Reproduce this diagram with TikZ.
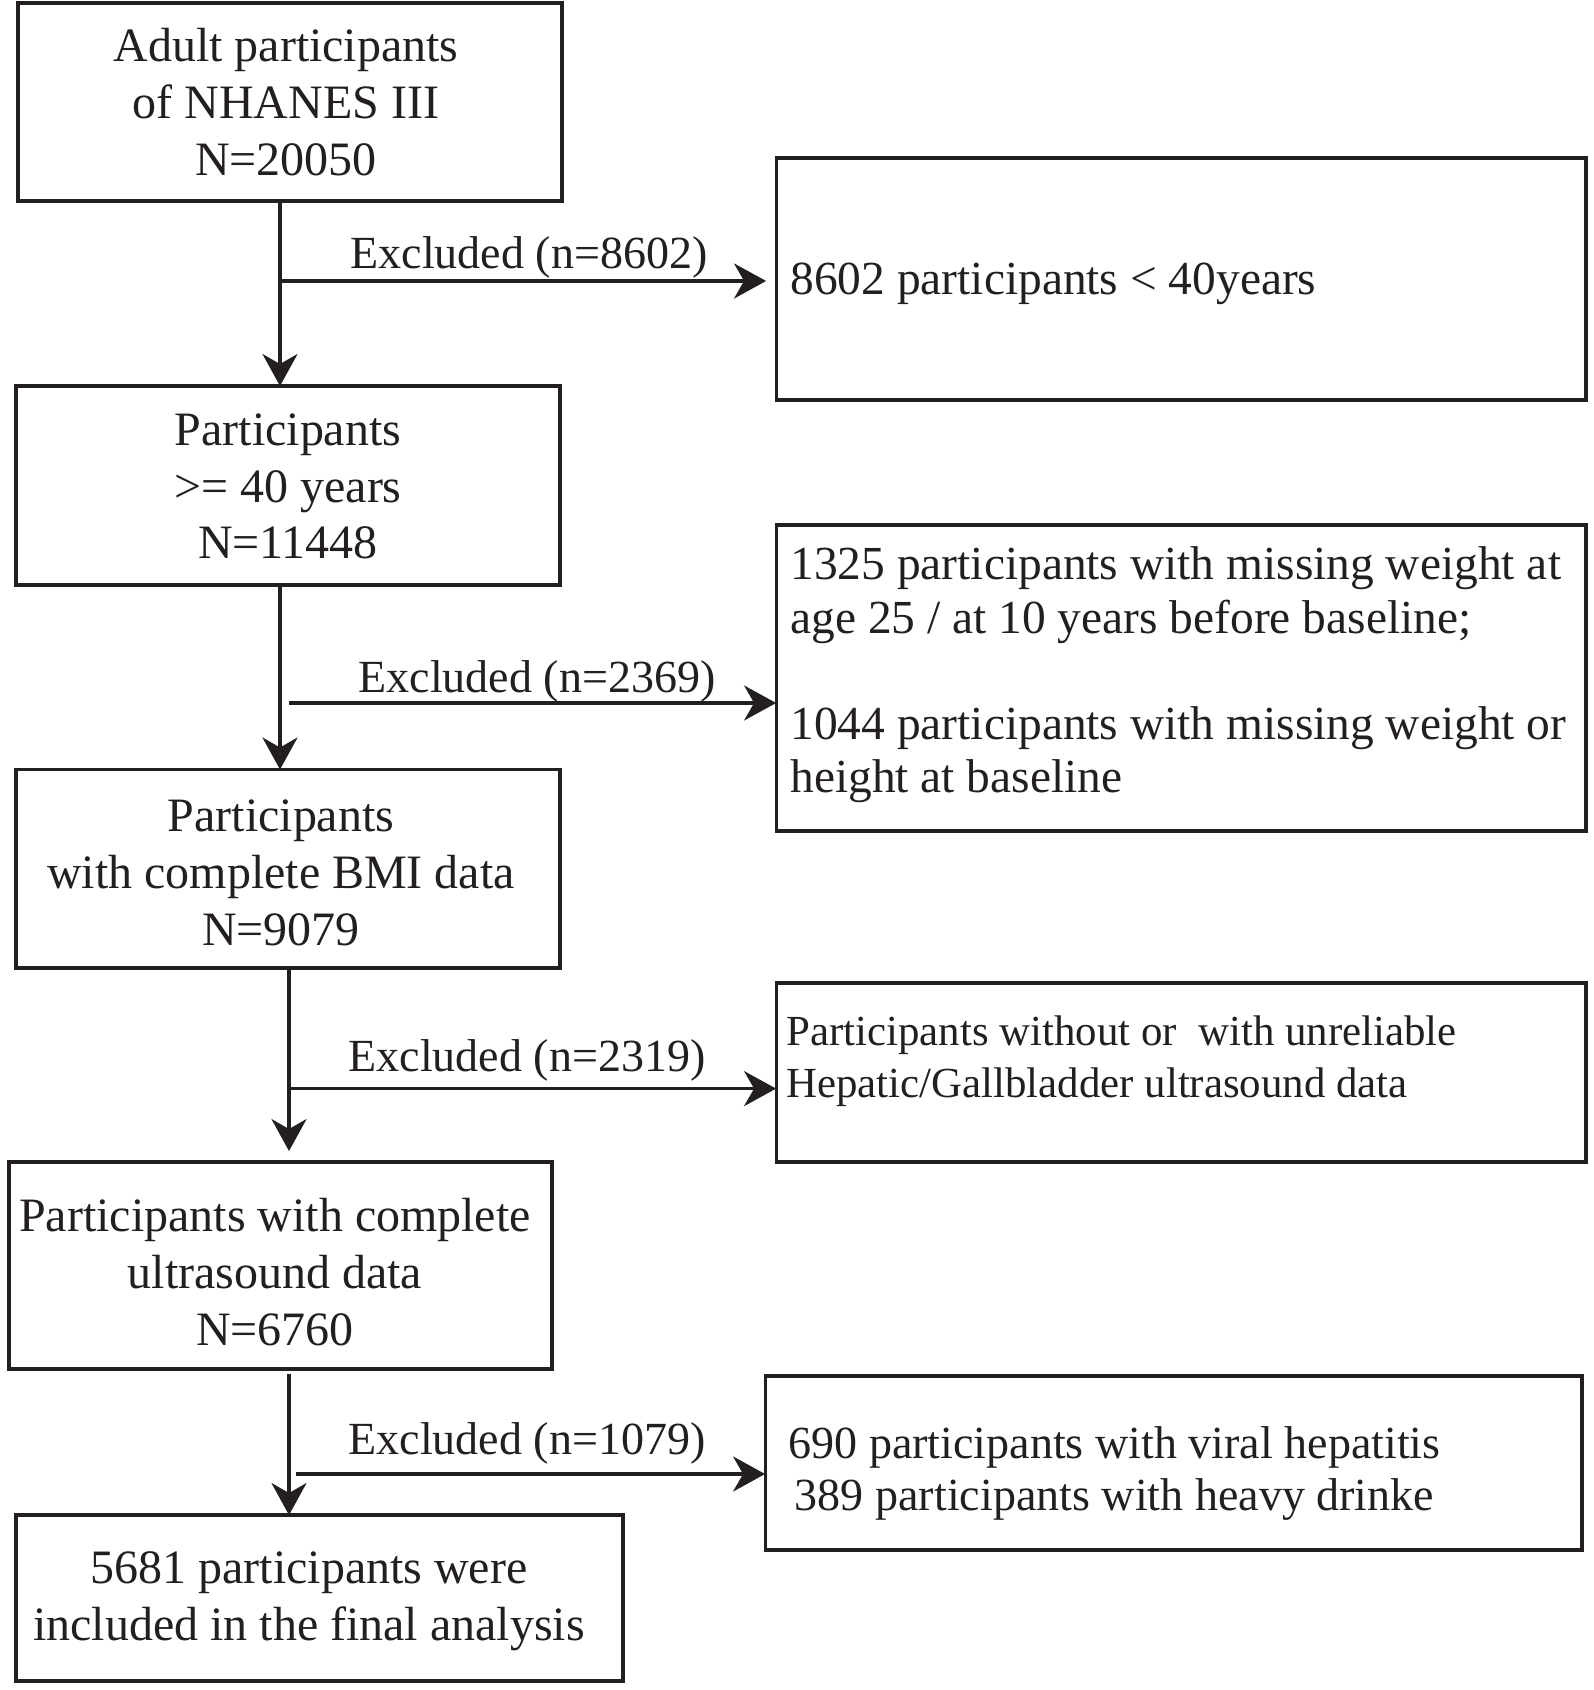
\documentclass[tikz,border=0pt]{standalone}
\usepackage{fontspec}
\setmainfont{Liberation Serif}
\usetikzlibrary{arrows.meta}
\definecolor{ink}{RGB}{35,31,32}
\begin{document}
\begin{tikzpicture}[x=0.02cm,y=-0.02cm,
  box/.style={draw=ink,line width=1.8pt,inner sep=0pt,outer sep=0pt},
  maintxt/.style={inner sep=0pt,text=ink,align=center,font=\fontsize{27.3pt}{32.3pt}\selectfont},
  sidetxt/.style={inner sep=0pt,text=ink,align=left,anchor=west,font=\fontsize{27pt}{30.3pt}\selectfont},
  lbl/.style={inner sep=0pt,text=ink,font=\fontsize{26.2pt}{30pt}\selectfont},
  arr/.style={draw=ink,line width=1.9pt,-{Stealth[length=0.64cm,width=0.7cm,inset=0.2cm]}}
]
\useasboundingbox (0,0) rectangle (1593,1690);

% left boxes
\node[box,minimum width=10.88cm,minimum height=3.96cm] (b1) at (290,102) {};
\node[box,minimum width=10.88cm,minimum height=3.98cm] (b2) at (288,485.5) {};
\node[box,minimum width=10.88cm,minimum height=3.97cm] (b3) at (288,868.75) {};
\node[box,minimum width=10.86cm,minimum height=4.14cm] (b4) at (280.5,1265.5) {};
\node[box,minimum width=12.14cm,minimum height=3.32cm] (b5) at (319.5,1598) {};

% right boxes
\node[box,minimum width=16.2cm,minimum height=4.84cm] (r1) at (1181,279) {};
\node[box,minimum width=16.2cm,minimum height=6.12cm] (r2) at (1181,678) {};
\node[box,minimum width=16.2cm,minimum height=3.58cm] (r3) at (1181,1072.5) {};
\node[box,minimum width=16.34cm,minimum height=3.48cm] (r4) at (1173.5,1463) {};

% left texts
\node[maintxt] (t1) at (286,102) {Adult participants\\of NHANES III\\N=20050};
\node[maintxt] (t2) at (288,486.5) {Participants\\>= 40 years\\N=11448};
\node[maintxt] (t3) at (281,873) {Participants\\with complete BMI data\\N=9079};
\node[maintxt] (t4) at (275,1272) {Participants with complete\\ultrasound data\\N=6760};
\node[maintxt] (t5) at (309,1601.5) {5681 participants were\\included in the final analysis};

% right texts
\node[sidetxt] (s1) at (790,284) {8602 participants < 40years};
\node[sidetxt] (s2) at (790,675) {1325 participants with missing weight at\\age 25 / at 10 years before baseline;\\\mbox{}\\1044 participants with missing weight or\\height at baseline};
\node[sidetxt,font=\fontsize{24.4pt}{29.5pt}\selectfont] (s3) at (786,1061.5) {Participants without or\ \ with unreliable\\Hepatic/Gallbladder ultrasound data};
\node[inner sep=0pt,text=ink,align=center,font=\fontsize{26.2pt}{29.5pt}\selectfont] (s4) at (1114.5,1473.5) {690 participants with viral hepatitis\\389 participants with heavy drinke};

% labels
\node[lbl] (l1) at (529,257.5) {Excluded (n=8602)};
\node[lbl] (l2) at (537,681.5) {Excluded (n=2369)};
\node[lbl] (l3) at (527,1060.5) {Excluded (n=2319)};
\node[lbl] (l4) at (527,1443.5) {Excluded (n=1079)};

% branch points
\coordinate (k1) at (280,281);
\coordinate (k2) at (289,703);
\coordinate (j2) at (280,703);
\coordinate (k3) at (289,1088.6);
\coordinate (k4) at (296,1474);
\coordinate (j4) at (289,1474);

% connectors
\draw[arr] (b1.south -| k1) -- (b2.north -| k1);
\draw[arr,shorten >=0.2cm] (k1) -- (r1.west |- k1);

\draw[arr] (b2.south -| j2) -- (b3.north -| j2);
\draw[arr] (k2) -- (r2.west |- k2);

\draw[arr,shorten >=0.22cm] (b3.south -| k3) -- (b4.north -| k3);
\draw[arr] (k3) -- (r3.west |- k3);

\draw[arr,shorten <=0.1cm] (b4.south -| j4) -- (b5.north -| j4);
\draw[arr] (k4) -- (r4.west |- k4);
\end{tikzpicture}
\end{document}
